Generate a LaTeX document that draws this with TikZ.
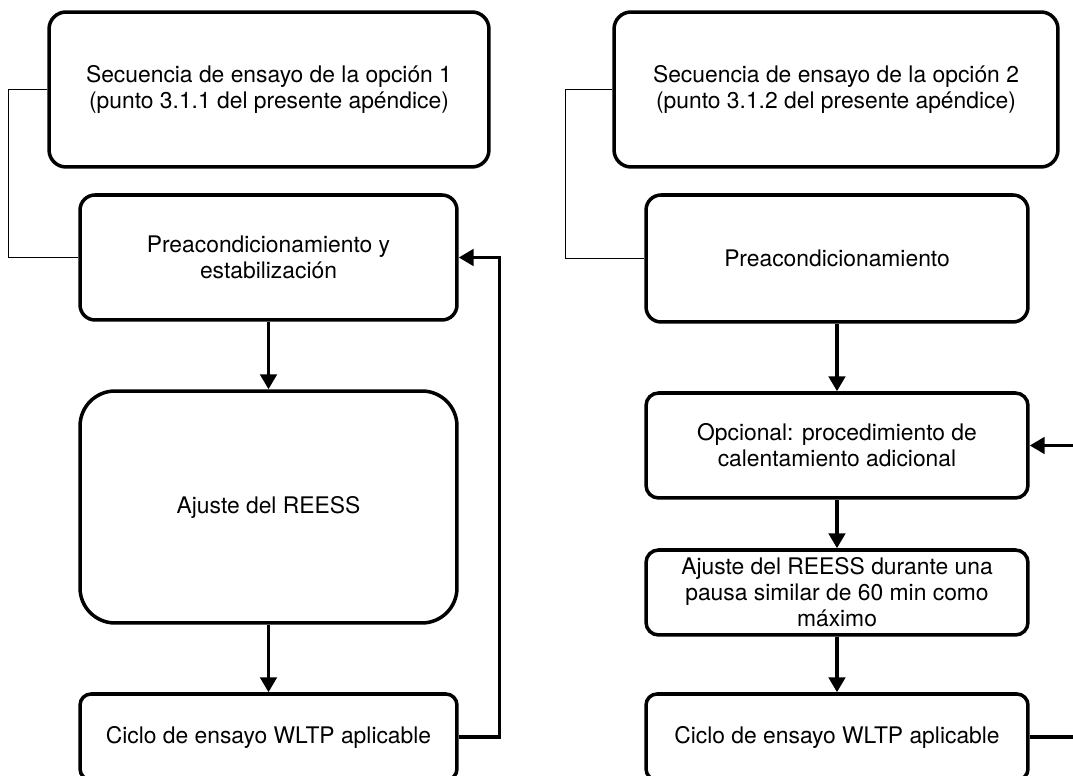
\documentclass[tikz,border=0pt]{standalone}
\usepackage{fontspec}
\setmainfont{TeX Gyre Heros}
\usetikzlibrary{arrows.meta}

\begin{document}
\begin{tikzpicture}[x=0.02cm, y=-0.02cm, >={Triangle[length=0.3cm,width=0.33cm]},
    caja/.style={draw, line width=2pt, align=center, inner sep=2pt,
        font=\fontsize{13}{14.8}\selectfont, rounded corners=0.3cm},
    flecha/.style={->, line width=2pt},
    llave/.style={line width=0.6pt}]
    \useasboundingbox (0,0) rectangle (1073,776);
    % columna izquierda: opcion 1
    \node[caja, minimum width=8.8cm, minimum height=3.1cm, rounded corners=0.34cm] (op1) at (269,89.5)
        {Secuencia de ensayo de la opción 1\\(punto 3.1.1 del presente apéndice)};
    \node[caja, minimum width=7.54cm, minimum height=2.5cm] (prea1) at (268.5,257.5)
        {Preacondicionamiento y\\estabilización};
    \node[caja, minimum width=7.54cm, minimum height=4.64cm, rounded corners=0.7cm] (ajuste1) at (268.5,507)
        {Ajuste del REESS};
    \node[caja, minimum width=7.54cm, minimum height=1.72cm, rounded corners=0.22cm] (ciclo1) at (268.5,737)
        {Ciclo de ensayo WLTP aplicable};
    \draw[llave] (op1.west) -- ++(-39,0) |- (prea1.west);
    \draw[flecha] (prea1.south) -- (ajuste1.north);
    \draw[flecha] (ajuste1.south) -- (ciclo1.north);
    \draw[flecha] (ciclo1.east) -- ++(41,0) |- (prea1.east);
    % columna derecha: opcion 2
    \node[caja, minimum width=8.88cm, minimum height=3.1cm, rounded corners=0.34cm] (op2) at (836,89.5)
        {Secuencia de ensayo de la opción 2\\(punto 3.1.2 del presente apéndice)};
    \node[caja, minimum width=7.64cm, minimum height=2.54cm] (prea2) at (837,258.5)
        {Preacondicionamiento};
    \node[caja, minimum width=7.64cm, minimum height=2.1cm, rounded corners=0.25cm] (calent) at (837,445.5)
        {Opcional: procedimiento de\\calentamiento adicional};
    \node[caja, minimum width=7.64cm, minimum height=1.7cm, rounded corners=0.25cm, inner sep=0pt] (ajuste2) at (837,592.5)
        {Ajuste del REESS durante una\\pausa similar de 60 min como\\máximo};
    \node[caja, minimum width=7.64cm, minimum height=1.72cm, rounded corners=0.22cm] (ciclo2) at (837,737)
        {Ciclo de ensayo WLTP aplicable};
    \draw[llave] (op2.west) -- ++(-47,0) |- (prea2.west);
    \draw[flecha] (prea2.south) -- (calent.north);
    \draw[flecha] (calent.south) -- (ajuste2.north);
    \draw[flecha] (ajuste2.south) -- (ciclo2.north);
    \draw[flecha] (ciclo2.east) -- ++(60,0) |- (calent.east);
\end{tikzpicture}
\end{document}
